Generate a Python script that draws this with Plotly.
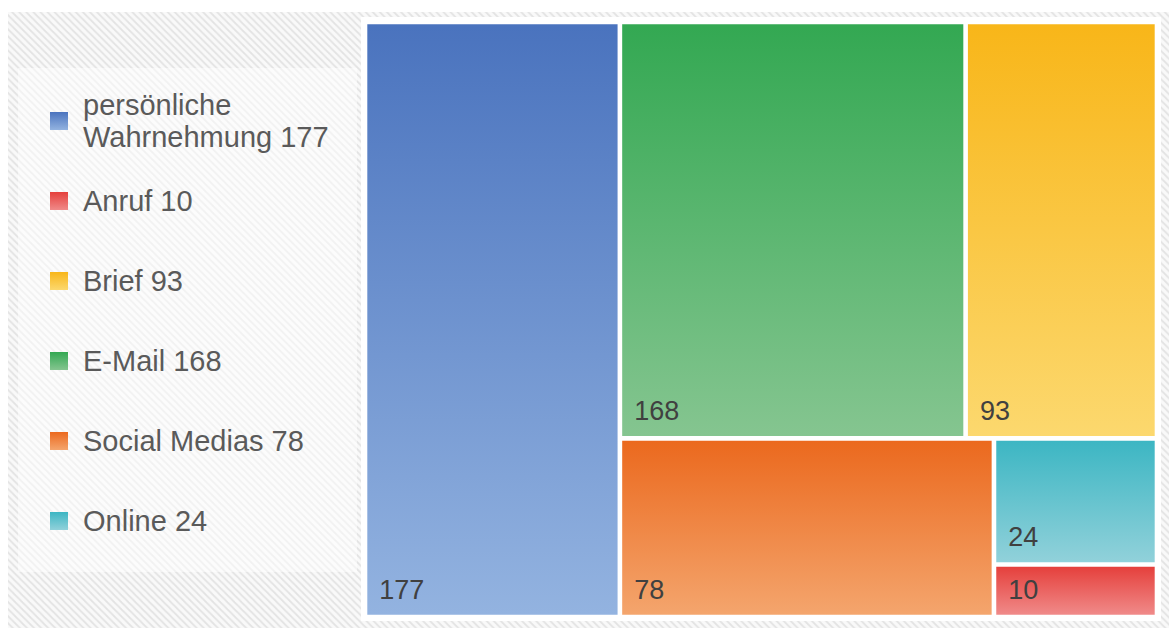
import plotly.graph_objects as go

# ---------------- data ----------------
categories = ["persönliche Wahrnehmung", "Anruf", "Brief", "E-Mail", "Social Medias", "Online"]
values = [177, 10, 93, 168, 78, 24]
colors_top = ["#4a73be", "#e5403c", "#f8b619", "#33a852", "#eb691e", "#3cb6c3"]
colors_bottom = ["#93b3e0", "#f08a89", "#fcd86e", "#85c590", "#f4a56d", "#91d1da"]

# ---------------- page geometry (pixels) ----------------
W, H = 1169, 628
TM_X0, TM_Y0, TM_W, TM_H = 365, 22, 792, 595   # treemap area
GAP = 2.3                                         # half gap between cells
TARGET = 1.5                                      # preferred height/width of a cell


def squarify(vals, x, y, w, h, target=TARGET):
    """Squarified treemap, rows laid along the shorter side, preferring
    cells whose height/width is close to `target`."""
    order = sorted(range(len(vals)), key=lambda i: -vals[i])
    total = float(sum(vals))
    scale = w * h / total
    areas = {i: vals[i] * scale for i in order}
    rects = {}

    def worst(row, side, vertical):
        s = sum(areas[i] for i in row)
        thick = s / side
        sc = 0
        for i in row:
            length = areas[i] / thick
            cw, ch = (thick, length) if vertical else (length, thick)
            q = ch / cw
            sc = max(sc, q / target, target / q)
        return sc

    rem = list(order)
    while rem:
        vertical = h <= w
        side = h if vertical else w
        row, best = [], float("inf")
        for i in rem:
            sc = worst(row + [i], side, vertical)
            if sc <= best:
                row.append(i)
                best = sc
            else:
                break
        rem = rem[len(row):]
        s = sum(areas[i] for i in row)
        if not rem:
            thick = w if vertical else h
        else:
            thick = s / side
        pos = y if vertical else x
        for i in row:
            length = areas[i] / s * side
            if vertical:
                rects[i] = (x, pos, x + thick, pos + length)
            else:
                rects[i] = (pos, y, pos + length, y + thick)
            pos += length
        if vertical:
            x += thick
            w -= thick
        else:
            y += thick
            h -= thick
    return rects


rects = squarify(values, TM_X0, TM_Y0, TM_W, TM_H)

fig = go.Figure()

# background hatch
fig.add_trace(go.Scatter(
    x=[8, W, W, 8, 8], y=[12, 12, H, H, 12], mode="lines", fill="toself",
    line=dict(width=0), fillcolor="#f6f6f6",
    fillpattern=dict(shape="\\", size=5, solidity=0.35, fgcolor="#cdcdcd", bgcolor="#f9f9f9"),
    hoverinfo="skip", showlegend=False))

# white treemap box
fig.add_trace(go.Scatter(
    x=[361, 1161, 1161, 361, 361], y=[17, 17, 621, 621, 17], mode="lines", fill="toself",
    line=dict(width=0), fillcolor="white", hoverinfo="skip", showlegend=False))

# light legend panel
fig.add_trace(go.Scatter(
    x=[18, 357, 357, 18, 18], y=[68, 68, 572, 572, 68], mode="lines", fill="toself",
    line=dict(width=0), fillcolor="rgba(255,255,255,0.5)", hoverinfo="skip", showlegend=False))

# treemap cells
lab_x, lab_y, lab_t = [], [], []
for i in sorted(rects, key=lambda k: -values[k]):
    x0, y0, x1, y1 = rects[i]
    x0 += GAP; y0 += GAP; x1 -= GAP; y1 -= GAP
    fig.add_trace(go.Scatter(
        x=[x0, x1, x1, x0, x0], y=[y0, y0, y1, y1, y0], mode="lines", fill="toself",
        line=dict(width=0),
        fillgradient=dict(type="vertical", start=y1, stop=y0,
                          colorscale=[[0, colors_bottom[i]], [1, colors_top[i]]]),
        hoverinfo="skip", showlegend=False))
    lab_x.append(x0 + 12)
    lab_y.append(y1 - 9)
    lab_t.append(str(values[i]))

fig.add_trace(go.Scatter(
    x=lab_x, y=lab_y, text=lab_t, mode="text", textposition="top right",
    textfont=dict(family="Liberation Sans, Arial, sans-serif", size=27, color="#404040"),
    hoverinfo="skip", showlegend=False))

# legend
LEG_X, LEG_Y0, LEG_DY, LINE_H = 59, 121, 80, 32


def wrap(label, maxlen=20):
    if len(label) > maxlen and " " in label:
        return label.split(" ", 1)
    return [label]


leg_y = [LEG_Y0 + LEG_DY * k for k in range(len(categories))]
fig.add_trace(go.Scatter(
    x=[LEG_X] * len(categories), y=leg_y, mode="markers",
    marker=dict(symbol="square", size=18, color=colors_top,
                gradient=dict(type="vertical", color=colors_bottom),
                line=dict(width=0)),
    hoverinfo="skip", showlegend=False))

txt_x, txt_y, txt_t = [], [], []
for c, v, yc in zip(categories, values, leg_y):
    lines = wrap(f"{c} {v}")
    n = len(lines)
    for j, ln in enumerate(lines):
        txt_x.append(LEG_X + 24)
        txt_y.append(yc + 2.5 + (j - (n - 1) / 2) * LINE_H)
        txt_t.append(ln)
fig.add_trace(go.Scatter(
    x=txt_x, y=txt_y, text=txt_t, mode="text", textposition="middle right",
    textfont=dict(family="Liberation Sans, Arial, sans-serif", size=29, color="#5a5a5a"),
    hoverinfo="skip", showlegend=False))

fig.update_layout(
    width=W, height=H, margin=dict(l=0, r=0, t=0, b=0),
    paper_bgcolor="white", plot_bgcolor="rgba(0,0,0,0)",
    xaxis=dict(range=[0, W], visible=False, fixedrange=True, domain=[0, 1]),
    yaxis=dict(range=[H, 0], visible=False, fixedrange=True, domain=[0, 1]),
    showlegend=False,
)

fig.write_html("out.html", config={"displayModeBar": False})

# remove the browser's default body margin so the figure sits at (0, 0)
with open("out.html", encoding="utf-8") as f:
    html = f.read()
html = html.replace("<head>", "<head><style>html,body{margin:0;padding:0;overflow:hidden;}</style>", 1)
with open("out.html", "w", encoding="utf-8") as f:
    f.write(html)
